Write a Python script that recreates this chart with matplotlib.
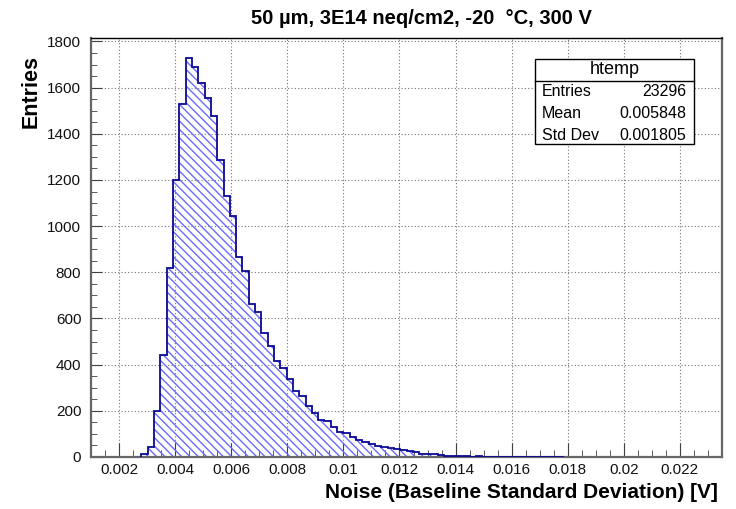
import numpy as np
import matplotlib
matplotlib.use("Agg")
import matplotlib.pyplot as plt
from matplotlib.ticker import MultipleLocator, FuncFormatter
from matplotlib.patches import Rectangle
from matplotlib.lines import Line2D

plt.rcParams['font.family'] = ['Liberation Sans', 'DejaVu Sans']
plt.rcParams['hatch.linewidth'] = 1.0

# binning of the noise histogram
x_lo, x_hi, n_bins = 0.001, 0.0235, 100
first_bin = 8

# entries per bin, starting at first_bin
counts = [12, 42, 200, 441, 817, 1202, 1527, 1727, 1690, 1618,
          1557, 1479, 1288, 1129, 1043, 866, 804, 662, 629, 539,
          479, 417, 387, 336, 287, 264, 222, 192, 161, 155,
          128, 107, 104, 88, 74, 63, 56, 49, 44, 40,
          35, 31, 27, 22, 14, 13, 12, 7, 6, 4,
          3, 3, 2, 3, 2, 2, 2, 0, 0, 0,
          0, 0, 2, 0, 0, 0, 2]

title = "50 µm, 3E14 neq/cm2, -20  °C, 300 V"
x_title = "Noise (Baseline Standard Deviation) [V]"
y_title = "Entries"

stats_name = "htemp"
stats_labels = ["Entries", "Mean", "Std Dev"]
stats_values = ["23296", "0.005848", "0.001805"]

W, H = 736, 509
fig = plt.figure(figsize=(W / 100, H / 100), dpi=100)
ax = fig.add_axes([91 / W, 52 / H, 631 / W, 419 / H])

edges = np.linspace(x_lo, x_hi, n_bins + 1)[first_bin:first_bin + len(counts) + 1]
ax.stairs(counts, edges, fill=True, facecolor='none', edgecolor='#6a6aff',
          hatch='\\\\\\\\', linewidth=0, zorder=2)
ax.stairs(counts, edges, color='#0a0a96', linewidth=1.3, zorder=3)

ax.set_xlim(x_lo, x_hi)
ax.set_ylim(0, 1815)

ax.xaxis.set_major_locator(MultipleLocator(0.002))
ax.xaxis.set_minor_locator(MultipleLocator(0.0005))
ax.yaxis.set_major_locator(MultipleLocator(200))
ax.yaxis.set_minor_locator(MultipleLocator(50))
ax.xaxis.set_major_formatter(FuncFormatter(lambda v, p: f"{v:g}"))
ax.yaxis.set_major_formatter(FuncFormatter(lambda v, p: f"{v:g}"))

ax.tick_params(which='both', direction='in', top=False, right=False,
               labelsize=11, color='0.25', labelcolor='#111111')
ax.tick_params(axis='x', which='major', length=10, pad=4)
ax.tick_params(axis='x', which='minor', length=5)
ax.tick_params(axis='y', which='major', length=8, pad=7)
ax.tick_params(axis='y', which='minor', length=4)

ax.grid(which='major', linestyle=(0, (1, 2)), color='0.45', linewidth=0.8)
ax.set_axisbelow(True)

for side in ['left', 'bottom', 'right']:
    ax.spines[side].set_color('0.4')
    ax.spines[side].set_linewidth(1.6)
ax.spines['top'].set_color('black')
ax.spines['top'].set_linewidth(1.0)

# titles
fig.text(421 / W, 1 - 18 / H, title, ha='center', va='center',
         fontsize=14.5, fontweight='bold')
fig.text(718 / W, 1 - 493 / H, x_title, ha='right', va='center',
         fontsize=15, fontweight='bold')
fig.text(31 / W, 1 - 55 / H, y_title, ha='center', va='top', rotation=90,
         fontsize=15.5, fontweight='bold')

# statistics box
def fx(px):
    return px / W


def fy(py):
    return 1 - py / H


bx0, bx1, by0, by1, sep = 535, 694, 59, 144, 81
fig.patches.append(Rectangle((fx(bx0), fy(by1)), fx(bx1) - fx(bx0), fy(by0) - fy(by1),
                             transform=fig.transFigure, facecolor='white',
                             edgecolor='black', linewidth=1.0, zorder=5))
fig.lines.append(Line2D([fx(bx0), fx(bx1)], [fy(sep), fy(sep)],
                        transform=fig.transFigure, color='black', linewidth=1.0, zorder=6))
fig.text(fx((bx0 + bx1) / 2), fy(70), stats_name, ha='center', va='center',
         fontsize=13, zorder=7)
row_y = [92, 114, 135]
for lab, val, ry in zip(stats_labels, stats_values, row_y):
    fig.text(fx(542), fy(ry), lab, ha='left', va='center', fontsize=11.5, zorder=7)
    fig.text(fx(686), fy(ry), val, ha='right', va='center', fontsize=11.5, zorder=7)

fig.savefig("out.png", dpi=100)
